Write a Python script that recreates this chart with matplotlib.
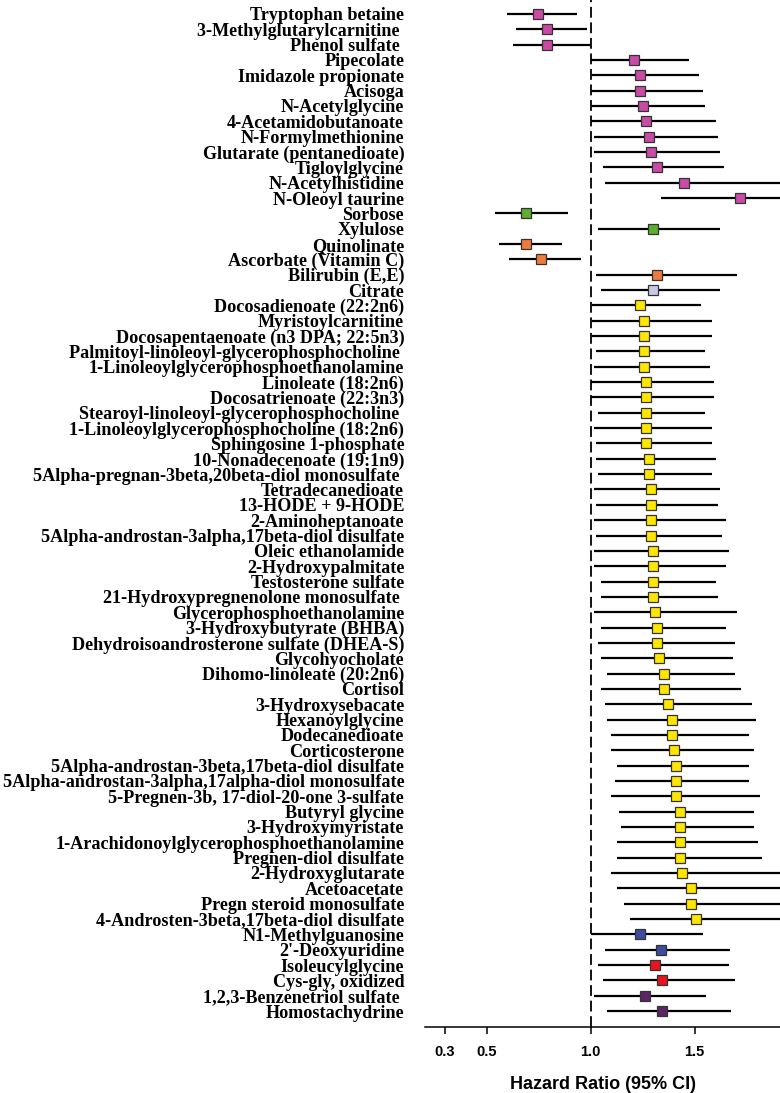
import matplotlib
matplotlib.use('Agg')
import matplotlib.pyplot as plt

names = [
    'Tryptophan betaine', '3-Methylglutarylcarnitine ', 'Phenol sulfate ',
    'Pipecolate', 'Imidazole propionate', 'Acisoga', 'N-Acetylglycine',
    '4-Acetamidobutanoate', 'N-Formylmethionine', 'Glutarate (pentanedioate)',
    'Tigloylglycine', 'N-Acetylhistidine', 'N-Oleoyl taurine',
    'Sorbose', 'Xylulose',
    'Quinolinate', 'Ascorbate (Vitamin C)', 'Bilirubin (E,E)',
    'Citrate',
    'Docosadienoate (22:2n6)', 'Myristoylcarnitine', 'Docosapentaenoate (n3 DPA; 22:5n3)',
    'Palmitoyl-linoleoyl-glycerophosphocholine ', '1-Linoleoylglycerophosphoethanolamine',
    'Linoleate (18:2n6)', 'Docosatrienoate (22:3n3)', 'Stearoyl-linoleoyl-glycerophosphocholine ',
    '1-Linoleoylglycerophosphocholine (18:2n6)', 'Sphingosine 1-phosphate',
    '10-Nonadecenoate (19:1n9)', '5Alpha-pregnan-3beta,20beta-diol monosulfate ',
    'Tetradecanedioate', '13-HODE + 9-HODE', '2-Aminoheptanoate',
    '5Alpha-androstan-3alpha,17beta-diol disulfate', 'Oleic ethanolamide',
    '2-Hydroxypalmitate', 'Testosterone sulfate', '21-Hydroxypregnenolone monosulfate ',
    'Glycerophosphoethanolamine', '3-Hydroxybutyrate (BHBA)',
    'Dehydroisoandrosterone sulfate (DHEA-S)', 'Glycohyocholate', 'Dihomo-linoleate (20:2n6)',
    'Cortisol', '3-Hydroxysebacate', 'Hexanoylglycine', 'Dodecanedioate', 'Corticosterone',
    '5Alpha-androstan-3beta,17beta-diol disulfate',
    '5Alpha-androstan-3alpha,17alpha-diol monosulfate',
    '5-Pregnen-3b, 17-diol-20-one 3-sulfate', 'Butyryl glycine', '3-Hydroxymyristate',
    '1-Arachidonoylglycerophosphoethanolamine', 'Pregnen-diol disulfate',
    '2-Hydroxyglutarate', 'Acetoacetate', 'Pregn steroid monosulfate',
    '4-Androsten-3beta,17beta-diol disulfate',
    'N1-Methylguanosine', "2'-Deoxyuridine",
    'Isoleucylglycine', 'Cys-gly, oxidized',
    '1,2,3-Benzenetriol sulfate ', 'Homostachydrine',
]

hr = [
    0.749, 0.789, 0.789, 1.208, 1.239, 1.239, 1.249, 1.268, 1.280, 1.289,
    1.321, 1.447, 1.718,
    0.689, 1.301,
    0.689, 0.761, 1.321,
    1.301,
    1.239, 1.258, 1.258, 1.258, 1.258, 1.268, 1.268, 1.268, 1.268, 1.268,
    1.280, 1.280, 1.289, 1.289, 1.289, 1.289, 1.301, 1.301, 1.301, 1.301,
    1.311, 1.321, 1.321, 1.330, 1.352, 1.352, 1.371, 1.392, 1.392, 1.402,
    1.411, 1.411, 1.411, 1.431, 1.431, 1.431, 1.431, 1.440, 1.483, 1.483,
    1.507,
    1.239, 1.340,
    1.309, 1.341,
    1.261, 1.341,
]

ci_low = [
    0.598, 0.639, 0.627, 1.000, 1.005, 1.000, 1.005, 1.000, 1.017, 1.017,
    1.057, 1.067, 1.340,
    0.538, 1.036,
    0.557, 0.605, 1.026,
    1.048,
    1.005, 1.005, 1.005, 1.026, 1.017, 1.000, 1.000, 1.036, 1.017, 1.026,
    1.026, 1.036, 1.017, 1.026, 1.017, 1.026, 1.017, 1.017, 1.048, 1.048,
    1.017, 1.048, 1.036, 1.048, 1.077, 1.048, 1.067, 1.077, 1.096, 1.096,
    1.127, 1.117, 1.096, 1.136, 1.146, 1.127, 1.127, 1.096, 1.127, 1.158,
    1.189,
    1.000, 1.068,
    1.037, 1.058,
    1.018, 1.077,
]

ci_high = [
    0.933, 0.981, 1.000, 1.471, 1.522, 1.541, 1.550, 1.603, 1.610, 1.622,
    1.641, 1.950, 1.950,
    0.892, 1.622,
    0.864, 0.952, 1.703,
    1.622,
    1.531, 1.584, 1.584, 1.550, 1.572, 1.591, 1.591, 1.550, 1.581, 1.581,
    1.603, 1.581, 1.622, 1.612, 1.651, 1.632, 1.663, 1.651, 1.603, 1.612,
    1.703, 1.651, 1.694, 1.684, 1.694, 1.722, 1.773, 1.794, 1.763, 1.785,
    1.763, 1.763, 1.813, 1.785, 1.785, 1.804, 1.823, 1.950, 1.950, 1.950,
    1.950,
    1.541, 1.672,
    1.665, 1.694,
    1.554, 1.673,
]

# number of rows per colour group, top to bottom
group_sizes = [13, 2, 3, 1, 41, 2, 2, 2]
group_colors = ['#C94BA5', '#5BAF2E', '#F07A3C', '#C9C9E6', '#FFE600',
                '#3A4DA0', '#E8141E', '#5E2366']

colors = []
for size, c in zip(group_sizes, group_colors):
    colors += [c] * size

fig = plt.figure(figsize=(7.8, 10.93), dpi=100)
ax = fig.add_axes([425 / 780, 1 - 1027 / 1093, 355 / 780, 1027 / 1093])

ypos = list(range(len(names)))

ax.axvline(1.0, color='black', lw=1.3, dashes=(6.0, 2.6), zorder=1)

for y, h, lo, hi, c in zip(ypos, hr, ci_low, ci_high, colors):
    ax.plot([lo, hi], [y, y], color='black', lw=1.6, solid_capstyle='butt', zorder=2)
    ax.plot(h, y, marker='s', markersize=7.6, markerfacecolor=c,
            markeredgecolor='#333333', markeredgewidth=0.9, zorder=3)

ax.set_xlim(0.2034, 1.910)
ax.set_ylim(len(names) - 1 + 1.04, -0.91)

ax.set_yticks(ypos)
ax.set_yticklabels(names, family='Liberation Serif', fontweight='bold', fontsize=13.1)
ax.tick_params(axis='y', length=0, pad=15)

ax.set_xticks([0.3, 0.5, 1.0, 1.5])
ax.set_xticklabels(['0.3', '0.5', '1.0', '1.5'], family='Liberation Sans',
                   fontweight='bold', fontsize=10.5)
ax.tick_params(axis='x', length=5, width=1.1, pad=8, direction='out')

for side in ['top', 'right', 'left']:
    ax.spines[side].set_visible(False)
ax.spines['bottom'].set_linewidth(1.1)

ax.set_xlabel('Hazard Ratio (95% CI)', family='Liberation Sans', fontweight='bold',
              fontsize=13, labelpad=12)

fig.savefig('out.png', dpi=100)
